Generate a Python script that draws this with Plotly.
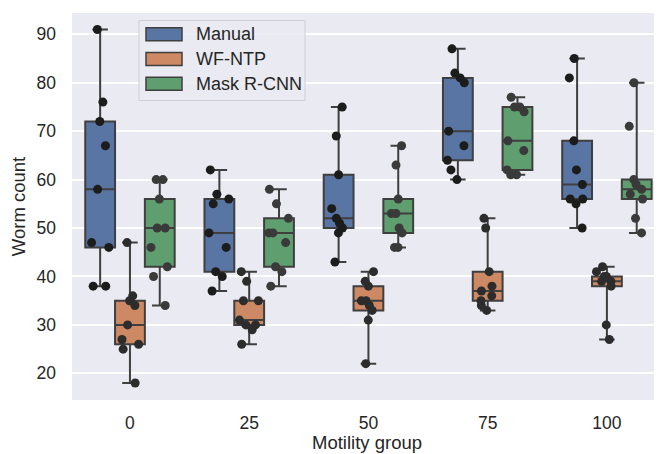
import plotly.graph_objects as go

# ---- data ----
categories = ["0", "25", "50", "75", "100"]
series_names = ["Manual", "WF-NTP", "Mask R-CNN"]

manual = [
    [91, 76, 72, 67, 58, 47, 46, 38, 38],
    [62, 57, 56, 55, 49, 46, 41, 40, 37],
    [75, 69, 61, 54, 52, 51, 50, 49, 43],
    [87, 82, 81, 80, 70, 67, 64, 62, 60],
    [85, 81, 68, 62, 59, 56, 56, 55, 50],
]
wfntp = [
    [47, 36, 35, 34, 30, 27, 26, 25, 18],
    [41, 39, 35, 35, 31, 30, 30, 29, 26],
    [41, 39, 38, 35, 35, 34, 33, 31, 22],
    [52, 50, 41, 38, 37, 36, 35, 34, 33],
    [42, 41, 40, 40, 39, 39, 38, 30, 27],
]
maskrcnn = [
    [60, 60, 56, 50, 50, 46, 42, 40, 34],
    [58, 55, 52, 49, 49, 47, 42, 41, 38],
    [67, 63, 56, 53, 53, 50, 49, 46, 46],
    [77, 75, 75, 74, 68, 66, 62, 61, 61],
    [80, 71, 60, 59, 58, 57, 56, 52, 49],
]
y_ticks = [20, 30, 40, 50, 60, 70, 80, 90]

# ---- styles ----
# the page body has an 8px default margin, so the figure is drawn 8px in
OFF = 8
W, H = 662 - OFF, 454 - OFF
ML, MT = 72 - OFF, 13 - OFF          # plot area left/top in figure pixels
MR = 0
MB = H - (400 - OFF)                  # plot bottom at page y = 400
box_colors = ["#5875A4", "#CC8963", "#5F9E6E"]
dot_colors = ["#1c1c1c", "#2c2c2c", "#3a3a3a"]
edge = "#3f3f3f"
txt = "#262626"
FONT = "Liberation Sans, Arial, sans-serif"

fig = go.Figure()
all_series = [manual, wfntp, maskrcnn]


def flatten(groups):
    xs, ys = [], []
    for cat, vals in zip(categories, groups):
        for v in vals:
            xs.append(cat)
            ys.append(v)
    return xs, ys


# boxes
for name, groups, col in zip(series_names, all_series, box_colors):
    xs, ys = flatten(groups)
    fig.add_trace(go.Box(
        x=xs, y=ys, name=name, offsetgroup=name, alignmentgroup="a",
        boxpoints=False, quartilemethod="inclusive",
        fillcolor=col, line=dict(color=edge, width=2), whiskerwidth=0.52,
        showlegend=False, hoverinfo="skip",
    ))

# jittered points (drawn by plotly's own box-point jitter)
for name, groups, dc in zip(series_names, all_series, dot_colors):
    xs, ys = flatten(groups)
    fig.add_trace(go.Box(
        x=xs, y=ys, name=name + " pts", offsetgroup=name, alignmentgroup="a",
        boxpoints="all", jitter=0.75, pointpos=0, quartilemethod="inclusive",
        fillcolor="rgba(0,0,0,0)", line=dict(color="rgba(0,0,0,0)", width=0),
        marker=dict(color=dc, size=9, line=dict(width=0)),
        whiskerwidth=0, showlegend=False,
    ))

# ---- custom legend (matplotlib style); positions given in page pixels ----
PW = W - ML - MR
PH = H - MT - MB


def px_x(p):
    return (p - OFF - ML) / PW


def px_y(p):
    return (H - MB - (p - OFF)) / PH


shapes = [dict(type="rect", xref="paper", yref="paper",
               x0=px_x(139), x1=px_x(305), y0=px_y(100.5), y1=px_y(20.5),
               fillcolor="rgba(234,234,242,0.85)",
               line=dict(color="#cfcfd6", width=1), layer="above")]
annotations = []
row_centers = [34.3, 59.0, 83.8]
for name, col, cy in zip(series_names, box_colors, row_centers):
    shapes.append(dict(type="rect", xref="paper", yref="paper",
                       x0=px_x(146), x1=px_x(182), y0=px_y(cy + 6.5), y1=px_y(cy - 6.5),
                       fillcolor=col, line=dict(color=edge, width=1.5), layer="above"))
    annotations.append(dict(xref="paper", yref="paper", x=px_x(194), y=px_y(cy),
                            text=name, showarrow=False, xanchor="left", yanchor="middle",
                            font=dict(family=FONT, size=18, color=txt)))

fig.update_layout(
    width=W, height=H,
    margin=dict(l=ML, r=MR, t=MT, b=MB, autoexpand=False),
    paper_bgcolor="white", plot_bgcolor="#EAEAF2",
    boxmode="group", boxgap=0.25, boxgroupgap=0.0,
    font=dict(family=FONT, size=17.5, color=txt),
    shapes=shapes, annotations=annotations,
    showlegend=False,
)
fig.update_xaxes(
    type="category", categoryorder="array", categoryarray=categories,
    range=[-0.486, 4.462], showgrid=False, zeroline=False, showline=False,
    automargin=False, ticks="", ticklabelstandoff=10,
    tickfont=dict(family=FONT, size=17.5, color=txt),
    title=dict(text="Motility group", standoff=4, font=dict(family=FONT, size=18.5, color=txt)),
)
fig.update_yaxes(
    range=[14.5, 94.4], tickvals=y_ticks, showgrid=True, gridcolor="white", gridwidth=1.5,
    zeroline=False, showline=False, automargin=False, ticks="", ticklabelstandoff=15,
    tickfont=dict(family=FONT, size=17.5, color=txt),
    title=dict(text="Worm count", standoff=6, font=dict(family=FONT, size=18.5, color=txt)),
)

fig.write_html("out.html")
